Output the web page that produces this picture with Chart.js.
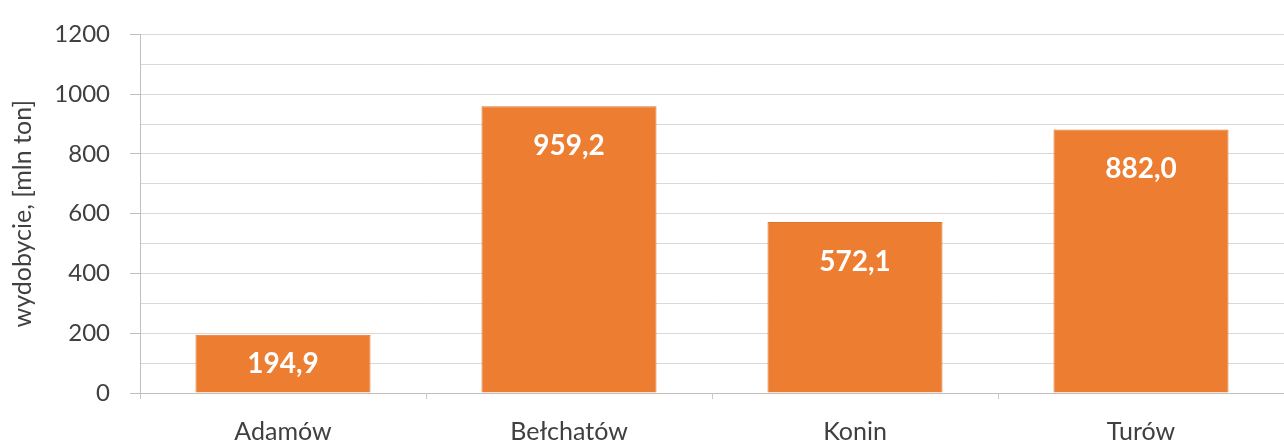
<!DOCTYPE html>
<html>
<head>
<meta charset="utf-8">
<script src="https://cdn.jsdelivr.net/npm/chart.js@4/dist/chart.umd.min.js"></script>
<style>
  html, body { margin: 0; padding: 0; background: #fff; }
  #wrap { width: 1284px; height: 445px; }
</style>
</head>
<body>
<div id="wrap"><canvas id="chart" width="1284" height="445"></canvas></div>
<script>
// Data
const mines = ['Adamów', 'Bełchatów', 'Konin', 'Turów'];
const output = [194.9, 959.2, 572.1, 882.0];
const yTitle = 'wydobycie, [mln ton]';

const barColor = '#ED7D31';
const textColor = '#404040';
const gridColor = '#d9d9d9';

// Value labels inside the top of each bar
const barLabels = {
    id: 'barLabels',
    afterDatasetsDraw(chart) {
        const ctx = chart.ctx;
        const meta = chart.getDatasetMeta(0);
        ctx.save();
        ctx.font = 'bold 28px Lato';
        ctx.fillStyle = '#ffffff';
        ctx.textAlign = 'center';
        ctx.textBaseline = 'middle';
        meta.data.forEach(function(bar, i) {
            const h = bar.base - bar.y;
            const off = Math.min(40, h / 2);
            const txt = output[i].toFixed(1).replace('.', ',');
            ctx.fillText(txt, bar.x, bar.y + off);
        });
        ctx.restore();
    }
};

const ctx = document.getElementById('chart').getContext('2d');
new Chart(ctx, {
    type: 'bar',
    data: {
        labels: mines,
        datasets: [{
            data: output,
            backgroundColor: barColor,
            borderColor: '#e0742c',
            borderWidth: 1,
            barPercentage: 0.612,
            categoryPercentage: 1.0
        }]
    },
    options: {
        responsive: false,
        animation: false,
        layout: {
            padding: { top: 33, right: 0, left: 0, bottom: 0 }
        },
        plugins: {
            legend: { display: false },
            tooltip: { enabled: false }
        },
        scales: {
            x: {
                offset: true,
                grid: {
                    offset: true,
                    drawOnChartArea: false,
                    tickLength: 6,
                    tickColor: '#c8c8c8'
                },
                border: { color: '#bfbfbf' },
                ticks: {
                    color: textColor,
                    font: { family: 'Lato', size: 25 },
                    padding: 18
                },
                afterFit(scale) { scale.height = 52; }
            },
            y: {
                min: 0,
                max: 1200,
                ticks: {
                    stepSize: 100,
                    autoSkip: false,
                    color: textColor,
                    font: { family: 'Lato', size: 24 },
                    padding: 20,
                    callback: function(v) { return v % 200 === 0 ? v : ''; }
                },
                grid: {
                    color: gridColor,
                    tickLength: 10,
                    tickColor: function(c) { return c.tick && c.tick.value % 200 === 0 ? '#bfbfbf' : 'rgba(0,0,0,0)'; }
                },
                border: { color: '#bfbfbf' },
                title: {
                    display: true,
                    text: yTitle,
                    color: textColor,
                    font: { family: 'Lato', size: 25 },
                    padding: { top: 8, bottom: 0 }
                },
                afterFit(scale) { scale.width = 140; }
            }
        }
    },
    plugins: [barLabels]
});
</script>
</body>
</html>
